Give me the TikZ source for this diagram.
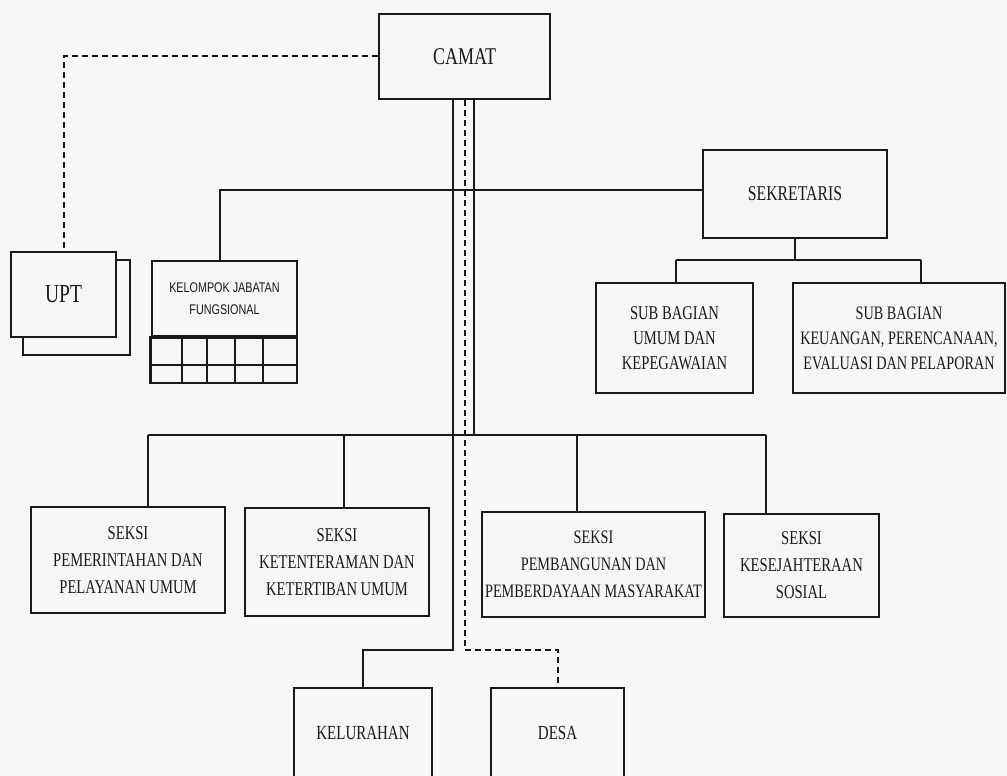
\documentclass[tikz,border=0pt]{standalone}
\usepackage{fontspec}
\setmainfont{Liberation Serif}[FakeStretch=0.75]
\newfontfamily\jabfont{Liberation Sans}[FakeStretch=0.77]
\definecolor{paper}{gray}{0.965}
\definecolor{ink}{gray}{0.1}
\tikzset{
  unit/.style={draw=ink, line width=2.6pt, fill=paper, align=center, inner sep=1pt, text=ink},
  link/.style={draw=ink, line width=2pt},
  dashlink/.style={draw=ink, line width=2pt, dash pattern=on 6pt off 4pt},
}
\begin{document}
\begin{tikzpicture}[x=1pt,y=-1pt]
\useasboundingbox (0,0) rectangle (1007,776);
\clip (0,0) rectangle (1007,776);
\fill[paper] (0,0) rectangle (1007,776);
% top
\node[unit, minimum width=171pt, minimum height=85pt, font=\fontsize{24}{28}\selectfont] (camat) at (464.5,56.5) {CAMAT};
\node[unit, minimum width=184pt, minimum height=88pt, font=\fontsize{21}{25}\selectfont] (sekretaris) at (795,194) {SEKRETARIS};
% left side
\draw[unit] (23,260) rectangle (130,355);
\node[unit, minimum width=105pt, minimum height=85pt, font=\fontsize{26}{30}\selectfont] (upt) at (63.5,294.5) {UPT};
\node[unit, minimum width=145pt, minimum height=75pt, font=\jabfont\fontsize{14}{22}\selectfont] (kelompok) at (224.5,298.5) {KELOMPOK JABATAN\\FUNGSIONAL};
\draw[unit] (kelompok.south west) rectangle (297,383);
\draw[link] (152,365) -- (297,365);
\foreach \x in {182,207,235,263}
  \draw[link] (\x,336) -- (\x,383);
% sub bagian
\node[unit, minimum width=157pt, minimum height=110pt, font=\fontsize{19.5}{25}\selectfont] (subumum) at (674.5,338) {SUB BAGIAN\\UMUM DAN\\KEPEGAWAIAN};
\node[unit, minimum width=212pt, minimum height=110pt, font=\fontsize{19}{25}\selectfont] (subkeu) at (899,338) {SUB BAGIAN\\KEUANGAN, PERENCANAAN,\\EVALUASI DAN PELAPORAN};
% seksi
\node[unit, minimum width=194pt, minimum height=106pt, font=\fontsize{19.5}{27}\selectfont] (pemerintahan) at (128,560) {SEKSI\\PEMERINTAHAN DAN\\PELAYANAN UMUM};
\node[unit, minimum width=184pt, minimum height=108pt, font=\fontsize{19.5}{27}\selectfont] (ketenteraman) at (337,562) {SEKSI\\KETENTERAMAN DAN\\KETERTIBAN UMUM};
\node[unit, minimum width=223pt, minimum height=105pt, font=\fontsize{19}{27}\selectfont] (pembangunan) at (593.5,564.5) {SEKSI\\PEMBANGUNAN DAN\\PEMBERDAYAAN MASYARAKAT};
\node[unit, minimum width=155pt, minimum height=103pt, font=\fontsize{19.5}{27}\selectfont] (kesejahteraan) at (801.5,565.5) {SEKSI\\KESEJAHTERAAN\\SOSIAL};
% bottom
\node[unit, minimum width=138pt, minimum height=90pt, font=\fontsize{20}{24}\selectfont] (kelurahan) at (363,733) {KELURAHAN};
\node[unit, minimum width=133pt, minimum height=90pt, font=\fontsize{20}{24}\selectfont] (desa) at (557.5,733) {DESA};
% lines
\coordinate (sekbus) at (474,190);
\coordinate (seksibus) at (474,435);
\coordinate (su) at (676,260);
\coordinate (sk) at (921,260);
\coordinate (s1) at (148,435);
\coordinate (s2) at (344,435);
\coordinate (s3) at (577,435);
\coordinate (s4) at (766,435);
\coordinate (kbend) at (453,650);
\coordinate (dbend) at (464.5,650);
\draw[dashlink] (camat.west) -| (upt.north);
\draw[link] (camat.south -| sekbus) -- (seksibus);
\draw[link] ([xshift=-5pt]kelompok.north) -- ([xshift=-5pt]kelompok.north |- sekbus) -- (sekbus -| sekretaris.west);
\draw[link] (sekretaris.south) -- (sekretaris.south |- su);
\draw[link] (su) -- (sk);
\draw[link] (su) -- (su |- subumum.north);
\draw[link] (sk) -- (sk |- subkeu.north);
\draw[link] (s1) -- (s4);
\foreach \c/\n in {s1/pemerintahan, s2/ketenteraman, s3/pembangunan, s4/kesejahteraan}
  \draw[link] (\c) -- (\c |- \n.north);
\draw[link] (camat.south -| kbend) -- (kbend) -| (kelurahan.north);
\draw[dashlink] (camat.south) -- (dbend) -| (desa.north);
\end{tikzpicture}
\end{document}
